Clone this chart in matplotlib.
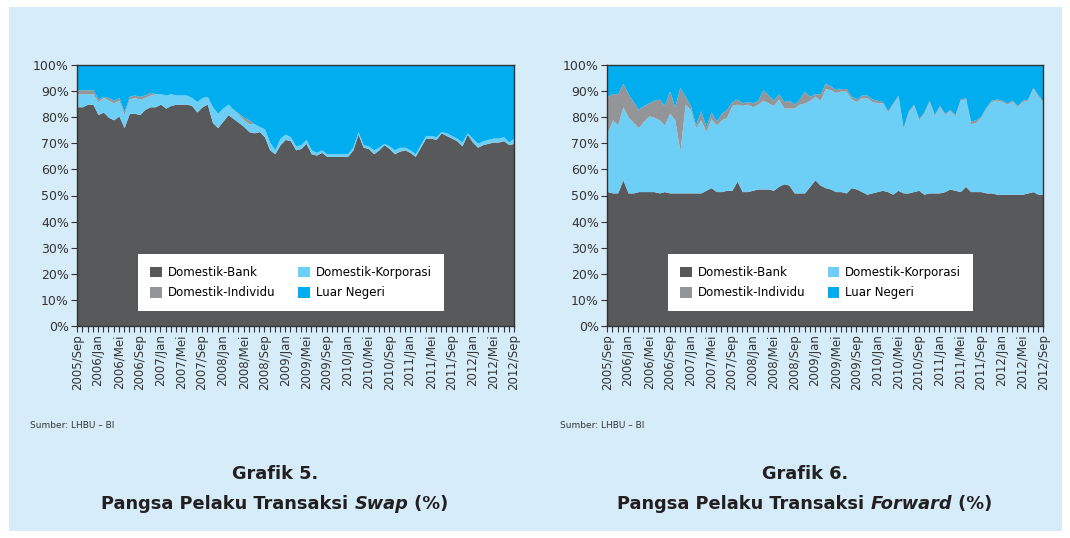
import matplotlib
matplotlib.use('Agg')
import matplotlib.pyplot as plt
from matplotlib.patches import Patch, Rectangle
import numpy as np

# bulan 2005/Sep .. 2012/Sep
bulan = ['Jan', 'Feb', 'Mar', 'Apr', 'Mei', 'Jun', 'Jul', 'Agu', 'Sep', 'Okt', 'Nov', 'Des']
periode = []
for th in range(2005, 2013):
    for b in bulan:
        periode.append('%d/%s' % (th, b))
periode = periode[periode.index('2005/Sep'):periode.index('2012/Sep') + 1]

# Grafik 5 - Swap: batas atas kumulatif tiap kelompok (%)
swap_bank = [84, 84, 85, 85, 81, 82, 80, 79, 80.5, 76, 81.5, 81.5, 81, 83, 84, 84, 85, 83.5, 84.5, 85,
             85, 85, 84.5, 82, 84, 85, 78, 76, 78.5, 81, 79.5, 78, 76.5, 74.5, 74, 74.5, 72.5, 67.5, 66, 69.5,
             71.5, 71, 67.5, 68, 70, 66, 65.5, 66.5, 65, 65, 65, 65, 65, 67.5, 73.5, 68.5, 68, 66, 67.5, 69.5,
             68, 66, 67, 67.5, 66.5, 65, 68.5, 72, 72, 71.5, 74, 73, 72, 71, 69, 73.5, 70.5, 68.5, 69.5, 70,
             70.5, 70.5, 71, 69.5, 70]
swap_korp = [89, 89, 89, 89, 86, 87.5, 86.5, 85.5, 86.5, 81, 87, 87.5, 87, 87.5, 88.5, 89, 89, 88.5, 89, 88.5,
             88.5, 88.5, 87.5, 86, 87.5, 88, 84, 81.5, 83.5, 85, 83, 81, 79, 77.5, 77.5, 76.5, 75.5, 70.5, 67.5, 72,
             73.5, 72.5, 69, 69.5, 71.5, 67.5, 66.5, 67.5, 66, 66, 66, 66, 66, 68.5, 74.5, 69.5, 69, 67.5, 68.5, 70,
             69, 67.5, 68.5, 68.5, 67.5, 66, 69.5, 73, 73, 72.5, 74.5, 74, 73, 72, 70.5, 74, 72, 70, 71, 71.5,
             72, 72, 72.5, 70.5, 72]
swap_indiv = [90.5, 90.5, 90.5, 90.5, 87, 88, 87.5, 86.5, 87.5, 82, 88, 88.5, 88, 88.5, 89.5, 89, 89, 88.5, 89, 88.5,
              88.5, 88.5, 87.5, 86, 87.5, 88, 84, 81.5, 83.5, 85, 83, 81.5, 80, 79, 77.5, 76.5, 75.5, 70.5, 67.5, 72,
              73.5, 72.5, 69, 69.5, 71.5, 67.5, 66.5, 67.5, 66, 66, 66, 66, 66, 68.5, 74.5, 69.5, 69, 67.5, 68.5, 70,
              69, 67.5, 68.5, 68.5, 67.5, 66, 69.5, 73, 73, 72.5, 74.5, 74, 73, 72, 70.5, 74, 72, 70, 71, 71.5,
              72, 72, 72.5, 70.5, 72]

# Grafik 6 - Forward
fwd_bank = [51.5, 51, 51, 56, 51, 51, 51.5, 51.5, 51.5, 51.5, 51, 51.5, 51, 51, 51, 51, 51, 51, 51, 52,
            53, 51.5, 51.5, 52, 52, 55.5, 51.5, 51.5, 52, 52.5, 52.5, 52.5, 52, 53.5, 54.5, 54, 51, 51, 51, 53.5,
            56, 54, 53, 52.5, 51.5, 51.5, 51, 53, 52.5, 51.5, 50.5, 51, 51.5, 52, 51.5, 50.5, 52, 51, 51, 51.5,
            52, 50.5, 51, 51, 51, 51.5, 52.5, 52, 51.5, 53.5, 51.5, 51.5, 51.5, 51, 51, 50.5, 50.5, 50.5, 50.5, 50.5,
            50.5, 51, 51.5, 50.5, 50.5]
fwd_korp = [74, 79, 77, 84, 80, 78, 76, 78.5, 80.5, 80, 79, 77, 81.5, 79, 67, 85, 83, 76, 79, 74.5,
            79.5, 77, 79, 80, 84.5, 85, 84.5, 85, 84, 85, 86.5, 85.5, 84.5, 87, 83.5, 83.5, 83.5, 85, 85.5, 86.5,
            88, 86.5, 91, 90.5, 89.5, 90, 90, 87, 86, 87.5, 87.5, 86, 85.5, 85.5, 82, 85, 88, 75.5, 82, 84.5,
            79, 81.5, 86, 80.5, 84, 81, 82.5, 80.5, 86.5, 87, 77.5, 78, 80, 83.5, 86, 86.5, 86, 85, 86, 84,
            86, 86.5, 91, 88, 85.5]
fwd_indiv = [88, 89, 89, 93, 89, 86, 83, 84.5, 85.5, 86.5, 87, 84.5, 90, 84, 91.5, 88, 84.5, 77, 82.5, 76.5,
             82, 78.5, 81.5, 83, 86, 87, 85.5, 86, 85.5, 86.5, 90.5, 88.5, 86.5, 89, 86, 86.5, 85, 87, 90, 88,
             89, 89, 93, 92, 90.5, 91, 91, 88, 87, 88.5, 88.5, 87, 86.5, 86, 82.5, 85.5, 88.5, 76, 82.5, 85,
             79.5, 82, 86.5, 81, 84.5, 81.5, 83, 81, 87, 87.5, 78.5, 79, 80.5, 84, 86.5, 87, 86.5, 85.5, 86.5, 84.5,
             86.5, 87, 91.5, 88.5, 86]

seri = ['Domestik-Bank', 'Domestik-Individu', 'Domestik-Korporasi', 'Luar Negeri']
warna = {'Domestik-Bank': '#58595b', 'Domestik-Individu': '#939598',
         'Domestik-Korporasi': '#6dcff6', 'Luar Negeri': '#00aeef'}
bg = '#d6edf9'

fig = plt.figure(figsize=(10.7, 5.38), dpi=100)
fig.patches.append(Rectangle((9 / 1070, 7 / 538), 1053 / 1070, 524 / 538, transform=fig.transFigure,
                             facecolor=bg, edgecolor='none', zorder=-10))


def grafik(ax, bank, korp, indiv):
    x = np.arange(len(periode))
    ax.fill_between(x, 0, bank, color=warna['Domestik-Bank'], lw=0)
    ax.fill_between(x, bank, korp, color=warna['Domestik-Korporasi'], lw=0)
    ax.fill_between(x, korp, indiv, color=warna['Domestik-Individu'], lw=0)
    ax.fill_between(x, indiv, 100, color=warna['Luar Negeri'], lw=0)
    ax.set_xlim(0, len(periode) - 1)
    ax.set_ylim(0, 100)
    ax.set_yticks(range(0, 101, 10))
    ax.set_yticklabels(['%d%%' % v for v in range(0, 101, 10)], fontsize=9, color='#333333')
    ax.set_xticks(x)
    ax.set_xticklabels([p if i % 4 == 0 else '' for i, p in enumerate(periode)],
                       rotation=90, fontsize=8.5, color='#333333')
    ax.tick_params(axis='both', length=4, width=0.8, color='#333333', pad=2)
    for s in ax.spines.values():
        s.set_color('#333333')
        s.set_linewidth(1)
    handles = [Patch(facecolor=warna[s], edgecolor='none', label=s) for s in seri]
    leg = ax.legend(handles=handles, ncol=2, loc='lower left', mode='expand',
                    bbox_to_anchor=(0.139, 0.057, 0.70, 0.22), borderaxespad=0, fontsize=8.5,
                    handlelength=1.0, handleheight=1.0, handletextpad=0.5,
                    borderpad=1.0, labelspacing=0.6, fancybox=False, framealpha=1)
    leg.get_frame().set_facecolor('white')
    leg.get_frame().set_edgecolor('none')


ax1 = fig.add_axes([77.3 / 1070, 1 - 326 / 538, 436.7 / 1070, 261 / 538])
grafik(ax1, swap_bank, swap_korp, swap_indiv)
ax2 = fig.add_axes([607.3 / 1070, 1 - 326 / 538, 436 / 1070, 261 / 538])
grafik(ax2, fwd_bank, fwd_korp, fwd_indiv)

fig.text(30 / 1070, 1 - 425 / 538, 'Sumber: LHBU \u2013 BI', fontsize=6.5, color='#333333', va='center')
fig.text(560 / 1070, 1 - 425 / 538, 'Sumber: LHBU \u2013 BI', fontsize=6.5, color='#333333', va='center')

r = fig.canvas.get_renderer()


def judul(xc, nomor, bagian):
    fig.text(xc / 1070, 1 - 474 / 538, nomor, fontsize=12.8, fontweight='bold', color='#231f20',
             ha='center', va='center')
    teks = []
    for s, gaya in bagian:
        teks.append(fig.text(0, 1 - 504 / 538, s, fontsize=12.8, fontweight='bold', style=gaya,
                             color='#231f20', va='center'))
    lebar = [t.get_window_extent(r).width for t in teks]
    x = xc - sum(lebar) / 2
    for t, w in zip(teks, lebar):
        t.set_x(x / 1070)
        x += w


judul(275, 'Grafik 5.', [('Pangsa Pelaku Transaksi ', 'normal'), ('Swap', 'italic'), (' (%)', 'normal')])
judul(805, 'Grafik 6.', [('Pangsa Pelaku Transaksi ', 'normal'), ('Forward', 'italic'), (' (%)', 'normal')])

fig.savefig('out.png', dpi=100, facecolor='white')
